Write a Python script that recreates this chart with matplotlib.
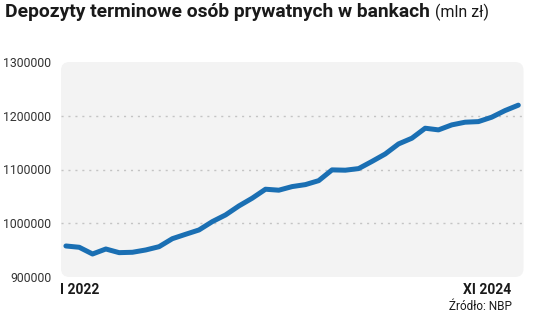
import numpy as np
import matplotlib
matplotlib.use("Agg")
import matplotlib.pyplot as plt
from matplotlib.patches import FancyBboxPatch

# monthly time deposits of households, I 2022 - XI 2024 (mln zl)
values = [957700, 955300, 942800, 952100, 945300, 946000, 950300, 956400,
          971300, 979500, 987500, 1003000, 1015500, 1032200, 1046600, 1063300,
          1061500, 1068200, 1071900, 1079300, 1099300, 1098700, 1101700, 1115000,
          1128900, 1147600, 1158200, 1176800, 1173700, 1183000, 1188000, 1189100,
          1197300, 1209600, 1219700]
yticks = [900000, 1000000, 1100000, 1200000, 1300000]
first_label = "I 2022"
last_label = "XI 2024"

plt.rcParams['font.family'] = ['Roboto', 'DejaVu Sans']

fig = plt.figure(figsize=(5.36, 3.17), dpi=100)
ax = fig.add_axes([61/536, 1-277/317, 462.5/536, 215/317])

x = np.arange(len(values))
ax.plot(x, values, color='#1a6fb3', lw=3.6, solid_capstyle='round',
        solid_joinstyle='round', zorder=3)

ax.set_xlim(-0.37, 34.39)
ax.set_ylim(900000, 1300000)
ax.set_yticks(yticks)
ax.set_yticklabels([str(v) for v in yticks], fontsize=8.8, color='#333333')
ax.tick_params(axis='y', length=0, pad=7)
ax.set_xticks([])
for s in ax.spines.values():
    s.set_visible(False)

# grey rounded background instead of the plain axes patch
ax.patch.set_visible(False)
bg = FancyBboxPatch((0, 0), 1, 1, boxstyle="round,pad=0,rounding_size=0.018",
                    mutation_aspect=462.5/215, transform=ax.transAxes,
                    facecolor='#f3f3f3', edgecolor='none', zorder=0, clip_on=False)
ax.add_patch(bg)

for v in yticks[1:-1]:
    ax.axhline(v, color='#c4c4c4', lw=1, ls=(0, (1.5, 3.5)), zorder=1)

title = fig.text(5/536, 1-12/317, "Depozyty terminowe osób prywatnych w bankach",
                 fontsize=13.9, fontweight='bold', color='#1a1a1a',
                 va='center', ha='left')
fig.canvas.draw()
bb = title.get_window_extent()
fig.text((bb.x1 + 5)/536, 1-12/317, "(mln zł)", fontsize=11.5, color='#1a1a1a',
         va='center', ha='left')

fig.text(60/536, 1-290/317, first_label, fontsize=10, fontweight='bold',
         color='#1a1a1a', va='center', ha='left')
fig.text(511/536, 1-290/317, last_label, fontsize=10, fontweight='bold',
         color='#1a1a1a', va='center', ha='right')
fig.text(512/536, 1-306/317, "Źródło: NBP", fontsize=8.5, color='#1a1a1a',
         va='center', ha='right')

fig.savefig("out.png", dpi=100)
